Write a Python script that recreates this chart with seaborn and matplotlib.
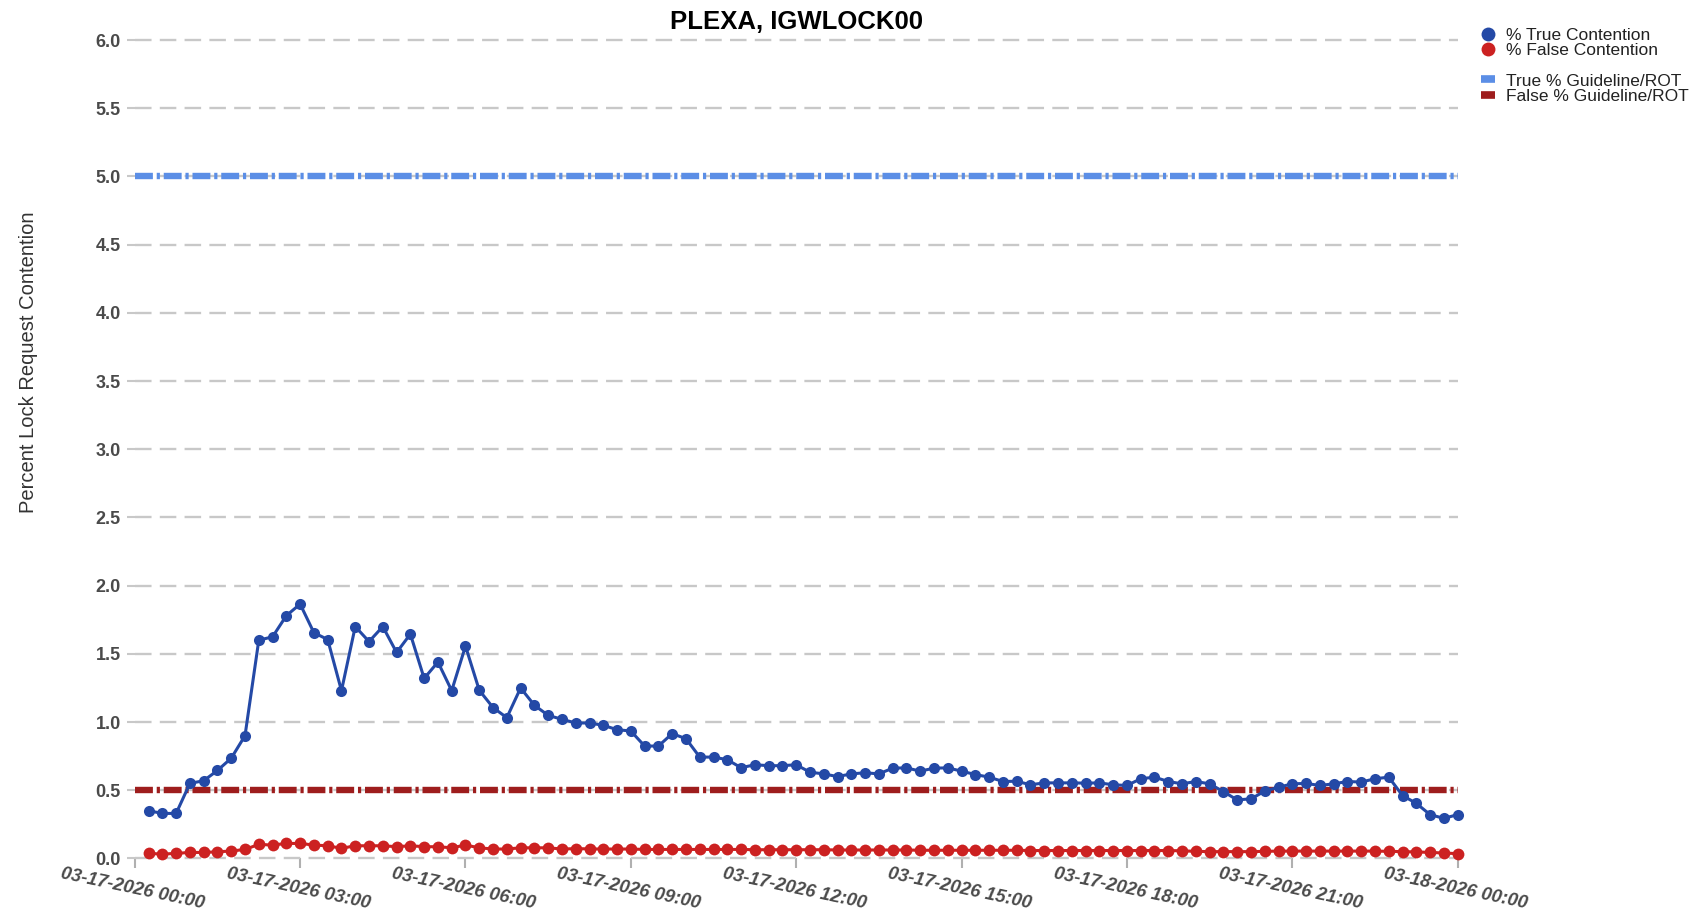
import numpy as np
import pandas as pd
import matplotlib
matplotlib.use("Agg")
import matplotlib.pyplot as plt
import matplotlib.dates as mdates
from matplotlib.lines import Line2D
import seaborn as sns

# ---------------- data ----------------
title = "PLEXA, IGWLOCK00"
y_label = "Percent Lock Request Contention"
start_time = "2026-03-17 00:15"
n_points = 96
freq = "15min"

true_pct = [
    0.35, 0.33, 0.33, 0.55, 0.57, 0.645, 0.735, 0.90,
    1.60, 1.625, 1.78, 1.865, 1.655, 1.605, 1.23, 1.70,
    1.59, 1.70, 1.51, 1.645, 1.32, 1.44, 1.23, 1.557,
    1.233, 1.106, 1.032, 1.25, 1.123, 1.049, 1.02, 0.993,
    0.993, 0.976, 0.944, 0.934, 0.824, 0.824, 0.915, 0.878,
    0.743, 0.743, 0.724, 0.665, 0.687, 0.68, 0.68, 0.687,
    0.632, 0.62, 0.60, 0.62, 0.628, 0.62, 0.662, 0.664,
    0.64, 0.662, 0.664, 0.64, 0.615, 0.596, 0.564, 0.566,
    0.54, 0.554, 0.554, 0.554, 0.552, 0.554, 0.54, 0.535,
    0.584, 0.596, 0.564, 0.547, 0.564, 0.547, 0.49, 0.429,
    0.437, 0.493, 0.522, 0.547, 0.55, 0.535, 0.547, 0.564,
    0.56, 0.584, 0.596, 0.461, 0.404, 0.321, 0.294, 0.321,
]
false_pct = [
    0.037, 0.032, 0.037, 0.044, 0.044, 0.049, 0.054, 0.066,
    0.103, 0.098, 0.11, 0.11, 0.098, 0.093, 0.074, 0.093,
    0.093, 0.093, 0.086, 0.093, 0.086, 0.086, 0.078, 0.098,
    0.078, 0.069, 0.069, 0.078, 0.078, 0.078, 0.069, 0.072,
    0.07, 0.069, 0.069, 0.069, 0.066, 0.066, 0.066, 0.066,
    0.066, 0.066, 0.066, 0.066, 0.064, 0.064, 0.064, 0.064,
    0.064, 0.064, 0.062, 0.062, 0.062, 0.062, 0.062, 0.062,
    0.06, 0.06, 0.06, 0.06, 0.06, 0.06, 0.06, 0.06,
    0.058, 0.058, 0.058, 0.058, 0.058, 0.058, 0.058, 0.058,
    0.058, 0.058, 0.058, 0.056, 0.052, 0.05, 0.05, 0.05,
    0.05, 0.052, 0.054, 0.054, 0.054, 0.054, 0.054, 0.054,
    0.054, 0.054, 0.052, 0.05, 0.048, 0.044, 0.04, 0.035,
]
true_guideline = 5.0
false_guideline = 0.5
series_labels = ["% True Contention", "% False Contention"]
guide_labels = ["True % Guideline/ROT", "False % Guideline/ROT"]
y_ticks = [0.0, 0.5, 1.0, 1.5, 2.0, 2.5, 3.0, 3.5, 4.0, 4.5, 5.0, 5.5, 6.0]
x_start = "2026-03-17 00:00"
x_end = "2026-03-18 00:00"

# ---------------- styling ----------------
C_TRUE = "#2449a6"
C_FALSE = "#cc2121"
C_TRUE_G = "#5b8ee6"
C_FALSE_G = "#9e1d1d"
C_GRID = "#c8c8c8"
C_TXT = "#4a4a4a"

sns.set_theme(style="white")
plt.rcParams["font.family"] = ["Liberation Sans", "DejaVu Sans"]
NARROW = ["Liberation Sans Narrow", "Liberation Sans", "DejaVu Sans"]

times = pd.date_range(start_time, periods=n_points, freq=freq)
df = pd.DataFrame({"time": times, "true": true_pct, "false": false_pct})

fig = plt.figure(figsize=(16.91, 9.11), dpi=100)
ax = fig.add_axes([0.0797, 0.0577, 0.7823, 0.8983])

# gridlines
for yv in y_ticks:
    ax.axhline(yv, color=C_GRID, lw=1.7, dashes=(7, 3.5), zorder=1, clip_on=False)

# guidelines
lw_g = 4.6
ax.axhline(true_guideline, color=C_TRUE_G, lw=lw_g, dashes=(2.8, 0.6, 0.5, 0.6), zorder=2)
ax.axhline(false_guideline, color=C_FALSE_G, lw=lw_g, dashes=(2.8, 0.6, 0.5, 0.6), zorder=2)

# series
sns.lineplot(data=df, x="time", y="true", ax=ax, color=C_TRUE, lw=2.2,
             marker="o", markersize=8, markeredgewidth=0, zorder=4, clip_on=False)
sns.lineplot(data=df, x="time", y="false", ax=ax, color=C_FALSE, lw=2.2,
             marker="o", markersize=8.5, markeredgewidth=0, zorder=3, clip_on=False)

ax.set_xlim(pd.Timestamp(x_start), pd.Timestamp(x_end))
ax.set_ylim(0, 6)
ax.set_yticks(y_ticks)
ax.set_yticklabels([f"{v:.1f}" for v in y_ticks], fontfamily=NARROW,
                   fontweight="bold", fontsize=13, color=C_TXT)
ax.xaxis.set_major_locator(mdates.HourLocator(byhour=range(0, 24, 3)))
ax.xaxis.set_major_formatter(mdates.DateFormatter("%m-%d-%Y %H:%M"))
ax.tick_params(axis="x", length=7, width=1.5, color="#b0b0b0", pad=9, bottom=True)
ax.tick_params(axis="y", length=6, width=1.5, color=C_GRID, pad=4, left=True)
fig.canvas.draw()
for lab in ax.get_xticklabels():
    lab.set_fontfamily(NARROW)
    lab.set_fontweight("bold")
    lab.set_fontstyle("italic")
    lab.set_fontsize(13.2)
    lab.set_color(C_TXT)
    lab.set_rotation(-12)
    lab.set_rotation_mode("anchor")
    lab.set_ha("center")
    lab.set_va("top")

for s in ax.spines.values():
    s.set_visible(False)
ax.grid(False)
ax.set_xlabel("")
ax.set_ylabel(y_label, fontsize=14.5, color="#333333")
ax.yaxis.set_label_coords(-0.073, 0.606)
ax.set_title(title, fontsize=18.5, fontweight="bold", color="black", pad=8)

# legend
handles = [
    Line2D([], [], marker="o", ls="none", color=C_TRUE, ms=10, mew=0),
    Line2D([], [], marker="o", ls="none", color=C_FALSE, ms=10, mew=0),
    Line2D([], [], ls="none"),
    Line2D([], [], color=C_TRUE_G, lw=5.5, solid_capstyle="butt"),
    Line2D([], [], color=C_FALSE_G, lw=5.5, solid_capstyle="butt"),
]
labels = [series_labels[0], series_labels[1], "", guide_labels[0], guide_labels[1]]
leg = fig.legend(handles, labels, loc="upper left", bbox_to_anchor=(0.872, 0.977),
                 frameon=False, fontsize=12.5, handlelength=0.8, handletextpad=0.6,
                 labelspacing=0.0, borderaxespad=0)
for t in leg.get_texts():
    t.set_color("#222222")

fig.savefig("out.png", dpi=100)
